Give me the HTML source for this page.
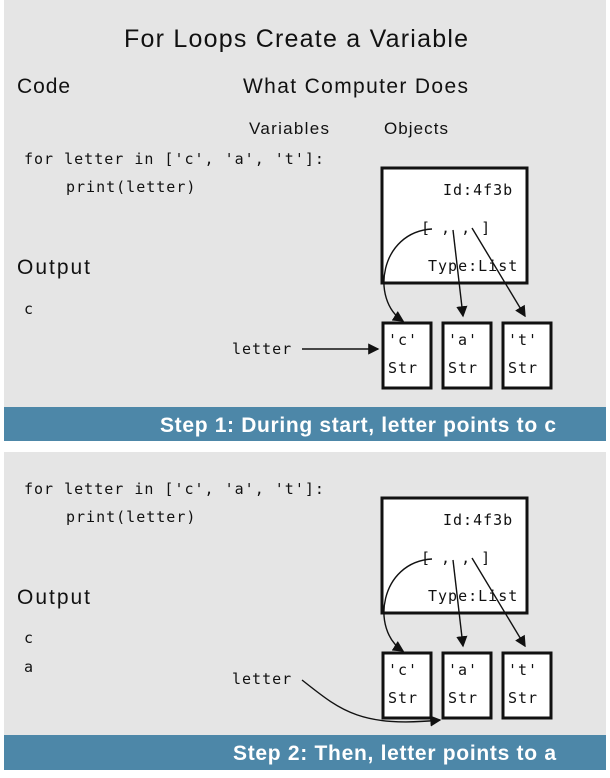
<!DOCTYPE html>
<html><head><meta charset="utf-8"><style>
body{margin:0;background:#fff}
svg{display:block}
.h{font-family:"Liberation Sans",sans-serif;fill:#111}
.m{font-family:"DejaVu Sans Mono","Liberation Mono",monospace;font-size:15px;fill:#111;letter-spacing:1px}
.b{fill:#fff;stroke:#111;stroke-width:3}
.a{fill:none;stroke:#111;stroke-width:1.4}
.s{font-family:"Liberation Sans",sans-serif;font-size:21px;fill:#fff;font-weight:bold}
</style></head><body>
<svg width="610" height="778" xmlns="http://www.w3.org/2000/svg">
<defs><marker id="ah" markerWidth="8" markerHeight="8" refX="7" refY="4" orient="auto"><path d="M0,0 L8,4 L0,8 Z" fill="#111"/></marker></defs>
<g>
<rect x="4" y="0" width="602" height="408" fill="#e5e5e5"/>
<text class="h" x="124" y="47" font-size="25" textLength="344">For Loops Create a Variable</text>
<text class="h" x="17" y="93" font-size="21" textLength="53">Code</text>
<text class="h" x="243" y="93" font-size="21" textLength="225">What Computer Does</text>
<text class="h" x="249" y="134" font-size="17" textLength="80">Variables</text>
<text class="h" x="384" y="134" font-size="17" textLength="64">Objects</text>
<text class="m" x="24" y="164">for letter in ['c', 'a', 't']:</text>
<text class="m" x="66" y="192">print(letter)</text>
<text class="h" x="17" y="274" font-size="21" textLength="73">Output</text>
<text class="m" x="24" y="314">c</text>
</g>
<rect x="4" y="407" width="602" height="34" fill="#4d87a8"/>
<text class="s" x="160" y="432" textLength="396">Step 1: During start, letter points to c</text>

<g>
<rect x="4" y="452" width="602" height="284" fill="#e5e5e5"/>
<text class="m" x="24" y="494">for letter in ['c', 'a', 't']:</text>
<text class="m" x="66" y="522">print(letter)</text>
<text class="h" x="17" y="604" font-size="21" textLength="73">Output</text>
<text class="m" x="24" y="643">c</text>
<text class="m" x="24" y="672">a</text>
</g>
<rect x="4" y="735" width="602" height="35" fill="#4d87a8"/>
<text class="s" x="233" y="760" textLength="323">Step 2: Then, letter points to a</text>

<g id="objs1">
<rect class="b" x="382" y="168" width="145" height="115"/>
<text class="m" x="443" y="195">Id:4f3b</text>
<text class="m" x="421" y="233">[ , , ]</text>
<text class="m" x="428" y="271">Type:List</text>
<rect class="b" x="383" y="323" width="48" height="65"/>
<rect class="b" x="443" y="323" width="48" height="65"/>
<rect class="b" x="503" y="323" width="48" height="65"/>
<text class="m" x="388" y="345">'c'</text><text class="m" x="448" y="345">'a'</text><text class="m" x="508" y="345">'t'</text>
<text class="m" x="388" y="373">Str</text><text class="m" x="448" y="373">Str</text><text class="m" x="508" y="373">Str</text>
<path class="a" marker-end="url(#ah)" d="M432,229 C380,232 370,300 403,321"/>
<path class="a" marker-end="url(#ah)" d="M453,230 L463,316"/>
<path class="a" marker-end="url(#ah)" d="M472,228 L525,316"/>
</g>
<text class="m" x="232" y="354">letter</text>
<path class="a" marker-end="url(#ah)" d="M302,349 L378,349"/>

<g transform="translate(0,330)">
<rect class="b" x="382" y="168" width="145" height="115"/>
<text class="m" x="443" y="195">Id:4f3b</text>
<text class="m" x="421" y="233">[ , , ]</text>
<text class="m" x="428" y="271">Type:List</text>
<rect class="b" x="383" y="323" width="48" height="65"/>
<rect class="b" x="443" y="323" width="48" height="65"/>
<rect class="b" x="503" y="323" width="48" height="65"/>
<text class="m" x="388" y="345">'c'</text><text class="m" x="448" y="345">'a'</text><text class="m" x="508" y="345">'t'</text>
<text class="m" x="388" y="373">Str</text><text class="m" x="448" y="373">Str</text><text class="m" x="508" y="373">Str</text>
<path class="a" marker-end="url(#ah)" d="M432,229 C380,232 370,300 403,321"/>
<path class="a" marker-end="url(#ah)" d="M453,230 L463,316"/>
<path class="a" marker-end="url(#ah)" d="M472,228 L525,316"/>
</g>
<text class="m" x="232" y="684">letter</text>
<path class="a" marker-end="url(#ah)" d="M302,680 C340,710 360,728 440,720"/>
</svg>
</body></html>
